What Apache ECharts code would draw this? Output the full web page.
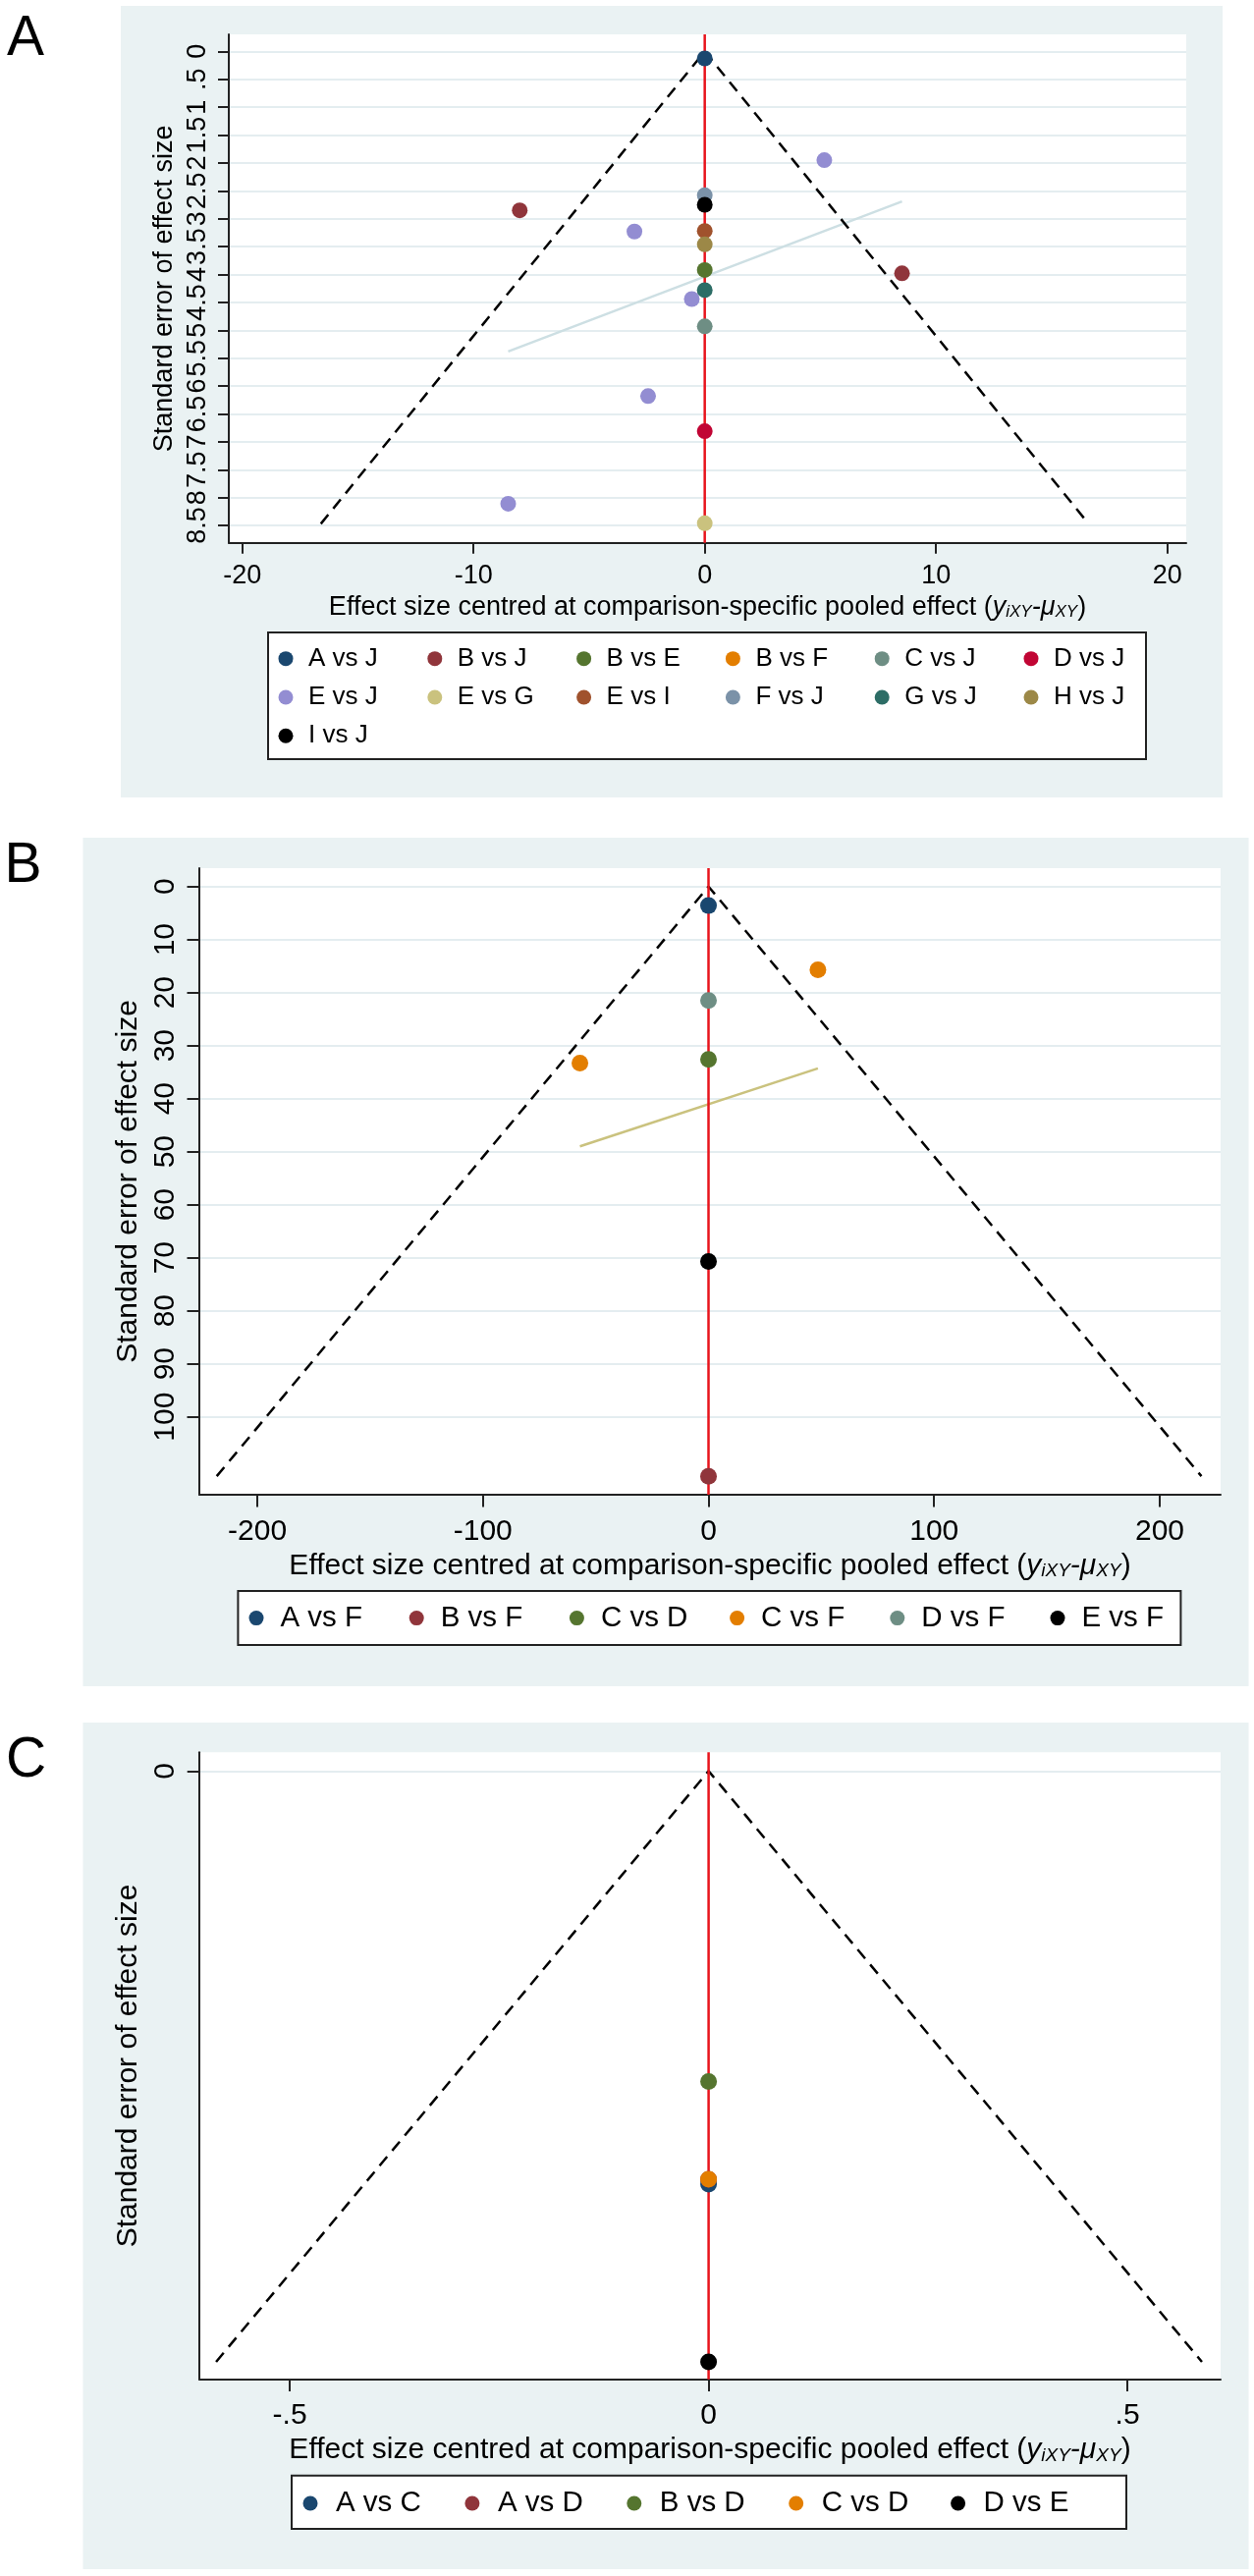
<!DOCTYPE html>
<html>
<head>
    <meta charset="utf-8">
    <title>Funnel plots</title>
    <script src="https://cdn.jsdelivr.net/npm/echarts@6.0.0/dist/echarts.min.js"></script>
    <style>
        body { margin: 0; background: #fff; }
        .panel { position: absolute; left: 0; width: 1277px; }
    </style>
</head>
<body>
    <div id="panel-a" class="panel" style="top:0;height:830px"></div>
    <div id="panel-b" class="panel" style="top:830px;height:905px"></div>
    <div id="panel-c" class="panel" style="top:1735px;height:888px"></div>

    <script>
        // --- panel A data
        const namesA = ['A vs J', 'B vs J', 'B vs E', 'B vs F', 'C vs J', 'D vs J', 'E vs J',
                        'E vs G', 'E vs I', 'F vs J', 'G vs J', 'H vs J', 'I vs J'];
        const pointsA = [
            [[0, 0.126]],
            [[-8.0, 2.85], [8.53, 3.98]],
            [[0, 3.92]],
            [],
            [[0, 4.93]],
            [[0, 6.81]],
            [[5.17, 1.95], [-3.04, 3.23], [-0.56, 4.44], [-2.45, 6.18], [-8.5, 8.11]],
            [[0, 8.46]],
            [[0, 3.22]],
            [[0, 2.58]],
            [[0, 4.28]],
            [[0, 3.46]],
            [[0, 2.75]]
        ];
        const funnelA = [[-16.6, 8.47], [0, 0], [16.6, 8.47]];
        const fitA = [[-8.5, 5.38], [8.53, 2.69]];
        const xTicksA = [-20, -10, 0, 10, 20];
        const yTicksA = [0, 0.5, 1, 1.5, 2, 2.5, 3, 3.5, 4, 4.5, 5, 5.5, 6, 6.5, 7, 7.5, 8, 8.5];

        // --- panel B data
        const namesB = ['A vs F', 'B vs F', 'C vs D', 'C vs F', 'D vs F', 'E vs F'];
        const pointsB = [
            [[0, 3.6]],
            [[0, 111.2]],
            [[0, 32.6]],
            [[48.5, 15.7], [-57, 33.3]],
            [[0, 21.5]],
            [[0, 70.7]]
        ];
        const funnelB = [[-218, 111.2], [0, 0], [218.5, 111.2]];
        const fitB = [[-57, 49.0], [48.5, 34.3]];
        const xTicksB = [-200, -100, 0, 100, 200];
        const yTicksB = [0, 10, 20, 30, 40, 50, 60, 70, 80, 90, 100];

        // --- panel C data
        const namesC = ['A vs C', 'A vs D', 'B vs D', 'C vs D', 'D vs E'];
        const pointsC = [
            [[0, 0.2115]],
            [[0, 0.209]],
            [[0, 0.159]],
            [[0, 0.209]],
            [[0, 0.3025]]
        ];
        const funnelC = [[-0.588, 0.3025], [0, 0], [0.589, 0.3025]];
        const xTicksC = [-0.5, 0, 0.5];
        const yTicksC = [0];

        // Stata s2color style colours
        const coloursA = ['#1a476f', '#90353b', '#55752f', '#e37e00', '#6e8e84', '#c10534', '#938dd2',
                          '#cac27e', '#a0522d', '#7b92a8', '#2d6d66', '#9c8847', '#000000'];
        const coloursB = ['#1a476f', '#90353b', '#55752f', '#e37e00', '#6e8e84', '#000000'];
        const coloursC = ['#1a476f', '#90353b', '#55752f', '#e37e00', '#000000'];

        const FONT = '"Liberation Sans", Arial, sans-serif';
        const BG = '#eaf2f3';

        // Stata drops the leading zero: .5, -.5
        function stataNum(v) {
            return String(+v.toFixed(6)).replace(/^(-?)0\./, '$1.');
        }

        function buildOption(p) {
            const off = p.top;
            const [L, T, R, B] = p.plot;
            const F = p.font;
            const sub = Math.round(F * 0.62);

            const series = [];
            if (p.fit) {
                series.push({
                    type: 'line', data: p.fit, symbol: 'none', silent: true, z: 2,
                    lineStyle: { color: p.fitColor, width: 2.5 }
                });
            }
            series.push({
                type: 'line', data: p.funnel, symbol: 'none', silent: true, z: 3,
                lineStyle: { color: '#000', width: 2.5, type: [12, 8] }
            });
            // line at zero, across the whole plot
            series.push({
                type: 'line', data: [[0, p.yRange[0]], [0, p.yRange[1]]], symbol: 'none', silent: true, z: 4,
                lineStyle: { color: '#e8141c', width: 2.5 }
            });
            p.names.forEach(function (n, i) {
                series.push({
                    type: 'scatter', name: n, data: p.points[i], symbol: 'circle',
                    symbolSize: p.marker, z: 5,
                    itemStyle: { color: p.colors[i], opacity: 1 }
                });
            });

            const lb = p.legendBox;
            return {
                animation: false,
                graphic: [
                    { type: 'rect', z: -10, silent: true,
                      shape: { x: p.bg[0], y: p.bg[1] - off, width: p.bg[2], height: p.bg[3] },
                      style: { fill: BG } },
                    { type: 'rect', z: -9, silent: true,
                      shape: { x: L, y: T - off, width: R - L, height: B - T },
                      style: { fill: '#fff' } },
                    { type: 'rect', z: -8, silent: true,
                      shape: { x: lb[0], y: lb[1] - off, width: lb[2], height: lb[3] },
                      style: { fill: '#fff', stroke: '#222', lineWidth: 2 } },
                    { type: 'text', z: 10, silent: true,
                      style: { text: p.letter, x: p.letterPos[0], y: p.letterPos[1] - off,
                               fontSize: 57, fontFamily: FONT, fill: '#000',
                               align: 'left', verticalAlign: 'middle' } }
                ],
                grid: {
                    left: L, top: T - off, width: R - L, height: B - T,
                    show: false, containLabel: false, outerBoundsMode: 'none'
                },
                xAxis: {
                    type: 'value', min: p.xRange[0], max: p.xRange[1], position: 'bottom',
                    axisLine: { show: true, onZero: false, lineStyle: { color: '#222', width: 2 } },
                    axisTick: { show: true, length: p.tickLen, customValues: p.xTicks,
                                lineStyle: { color: '#222', width: 2 } },
                    axisLabel: { customValues: p.xTicks, margin: p.xLabelMargin, fontSize: F,
                                 color: '#000', fontFamily: FONT, formatter: stataNum },
                    splitLine: { show: false },
                    name: '{n|Effect size centred at comparison-specific pooled effect (}{i|y}{s|iXY}{i|-\u03bc}{s|XY}{n|)}',
                    nameLocation: 'middle', nameGap: p.xNameGap,
                    nameTextStyle: {
                        color: '#000', fontFamily: FONT, fontSize: F,
                        rich: {
                            n: { fontSize: F, lineHeight: F, verticalAlign: 'bottom', fontFamily: FONT, color: '#000' },
                            i: { fontSize: F, lineHeight: F, verticalAlign: 'bottom', fontStyle: 'italic', fontFamily: FONT, color: '#000' },
                            s: { fontSize: sub, lineHeight: sub, verticalAlign: 'bottom', fontStyle: 'italic', fontFamily: FONT, color: '#000' }
                        }
                    }
                },
                yAxis: {
                    type: 'value', min: p.yRange[0], max: p.yRange[1], inverse: true,
                    axisLine: { show: true, onZero: false, lineStyle: { color: '#222', width: 2 } },
                    axisTick: { show: true, length: p.tickLen, customValues: p.yTicks,
                                lineStyle: { color: '#222', width: 2 } },
                    axisLabel: { customValues: p.yTicks, rotate: 90, margin: p.yLabelMargin, fontSize: F,
                                 color: '#000', fontFamily: FONT, formatter: stataNum },
                    splitLine: { show: true, lineStyle: { color: '#e4edf0', width: 2 } },
                    name: 'Standard error of effect size',
                    nameLocation: 'middle', nameGap: p.yNameGap, nameRotate: 90,
                    nameTextStyle: { color: '#000', fontFamily: FONT, fontSize: F }
                },
                legend: {
                    data: p.names, selectedMode: false,
                    left: p.legendLeft, top: p.legendTop - off, width: p.legendWidth,
                    orient: 'horizontal', padding: 0, itemGap: 0,
                    icon: 'circle', itemWidth: 15, itemHeight: 15,
                    textStyle: {
                        fontSize: p.legendFont, fontFamily: FONT, color: '#000',
                        width: p.legendCol - 20 - p.legendPad, lineHeight: p.legendRow,
                        padding: [0, 0, 0, p.legendPad]
                    }
                },
                series: series
            };
        }

        const panels = [
            {
                el: 'panel-a', top: 0, letter: 'A', letterPos: [7, 40.5],
                bg: [123, 6, 1122, 806], plot: [233, 35, 1208, 552.7],
                xRange: [-20.58, 20.82], yRange: [-0.305, 8.81],
                xTicks: xTicksA, yTicks: yTicksA,
                names: namesA, points: pointsA, colors: coloursA,
                fit: fitA, fitColor: '#cddfe3', funnel: funnelA,
                font: 27, tickLen: 11, yLabelMargin: 17.5, xLabelMargin: 20.5,
                xNameGap: 49, yNameGap: 49.5, marker: 16,
                legendBox: [273, 644, 894, 129], legendLeft: 283.5, legendTop: 651,
                legendCol: 151.8, legendRow: 39.3, legendFont: 26, legendPad: 10.5, legendWidth: 930
            },
            {
                el: 'panel-b', top: 830, letter: 'B', letterPos: [4.5, 882.5],
                bg: [84.5, 853, 1187, 864], plot: [203, 884, 1243, 1521.9],
                xRange: [-225.7, 227.0], yRange: [-3.46, 114.67],
                xTicks: xTicksB, yTicks: yTicksB,
                names: namesB, points: pointsB, colors: coloursB,
                fit: fitB, fitColor: '#cac27e', funnel: funnelB,
                font: 30, tickLen: 12.5, yLabelMargin: 19, xLabelMargin: 22.9,
                xNameGap: 50, yNameGap: 53, marker: 17,
                legendBox: [242.4, 1620, 960, 55], legendLeft: 253.5, legendTop: 1627.6,
                legendCol: 163.2, legendRow: 40, legendFont: 29.5, legendPad: 12, legendWidth: 1000
            },
            {
                el: 'panel-c', top: 1735, letter: 'C', letterPos: [6, 1793.5],
                bg: [84.5, 1754, 1187, 862], plot: [203, 1784.3, 1243, 2422.7],
                xRange: [-0.608, 0.6113], yRange: [-0.00957, 0.3114],
                xTicks: xTicksC, yTicks: yTicksC,
                names: namesC, points: pointsC, colors: coloursC,
                fit: null, funnel: funnelC,
                font: 30, tickLen: 12.3, yLabelMargin: 19, xLabelMargin: 22.3,
                xNameGap: 50, yNameGap: 53, marker: 17,
                legendBox: [297, 2520.7, 850, 54.3], legendLeft: 308.5, legendTop: 2529,
                legendCol: 164.9, legendRow: 40, legendFont: 29.5, legendPad: 13.5, legendWidth: 900
            }
        ];

        panels.forEach(function (p) {
            const chart = echarts.init(document.getElementById(p.el));
            chart.setOption(buildOption(p));
        });
    </script>
</body>
</html>
